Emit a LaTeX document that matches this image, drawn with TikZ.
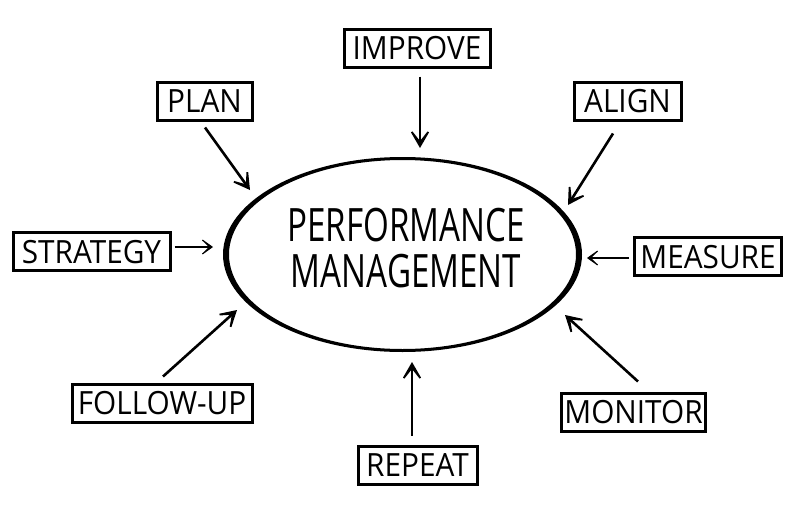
\documentclass[tikz,border=0pt]{standalone}
\usepackage{fontspec}
\setmainfont{Open Sans}
\newfontfamily\boxfont[FakeStretch=0.93]{Open Sans}
\newfontfamily\pmfont[FakeStretch=0.72]{Open Sans}
\usetikzlibrary{arrows.meta,calc,shapes.geometric}
\begin{document}
\begin{tikzpicture}[x=1pt,y=-1pt,
  lbl/.style={draw, line width=3pt, inner xsep=3pt, inner ysep=0pt, minimum height=38pt,
    font=\boxfont\fontsize{32}{32}\selectfont, text height=23pt, text depth=0pt},
  arr/.style={line width=2.6pt, -{Stealth[length=26pt,width=30pt,inset=19pt]}},
  sarr/.style={line width=2pt, -{Stealth[length=16pt,width=23pt,inset=12pt]}}]
\useasboundingbox (0,0) rectangle (800,514);
\fill[white] (0,0) rectangle (800,514);
% central ellipse
\node[ellipse, minimum width=359pt, minimum height=195pt, inner sep=0pt] (pm) at (402.5,254.5) {};
\fill[black, even odd rule] (pm.center) ellipse [x radius=179.5pt, y radius=97.5pt]
                            (pm.center) ellipse [x radius=173.5pt, y radius=94.5pt];
\node[font=\pmfont\fontsize{46}{46}\selectfont, align=center, inner sep=0pt] (pmtext) at (406,248.5)
  {PERFORMANCE\\MANAGEMENT};
% label boxes
\node[lbl, minimum width=146pt] (improve) at (417,48) {IMPROVE};
\node[lbl, minimum width=95pt] (plan) at (204.5,101) {PLAN};
\node[lbl, minimum width=107pt] (align) at (627.5,101) {ALIGN};
\node[lbl, minimum width=157pt] (strategy) at (91.5,251.5) {STRATEGY};
\node[lbl, minimum width=147pt] (measure) at (708,256.5) {MEASURE};
\node[lbl, minimum width=180pt] (follow) at (162,403) {FOLLOW-UP};
\node[lbl, minimum width=143pt] (monitor) at (633.5,412) {MONITOR};
\node[lbl, minimum width=119pt] (repeat) at (417.5,465) {REPEAT};
% arrow tips on the ellipse
\coordinate (tI) at (420,148);
\coordinate (tP) at (250,190);
\coordinate (tA) at (568,205);
\coordinate (tS) at (213,247);
\coordinate (tM) at (587,258);
\coordinate (tF) at (237,310);
\coordinate (tO) at (565,315);
\coordinate (tR) at (412,362);
% connectors
\draw[arr] ($(improve.south)+(3,8)$) -- (tI);
\draw[arr] ($(plan.south)+(0.5,6)$) -- (tP);
\draw[arr] ($(align.south)+(-14.5,12)$) -- (tA);
\draw[sarr] ($(strategy.east)+(3,-4.5)$) -- (tS);
\draw[sarr] ($(measure.west)+(-4,1.5)$) -- (tM);
\draw[arr] ($(follow.north)+(1,-6)$) -- (tF);
\draw[arr] ($(monitor.north)+(4.5,-10)$) -- (tO);
\draw[arr] ($(repeat.north)+(-5.5,-9)$) -- (tR);
\end{tikzpicture}
\end{document}
